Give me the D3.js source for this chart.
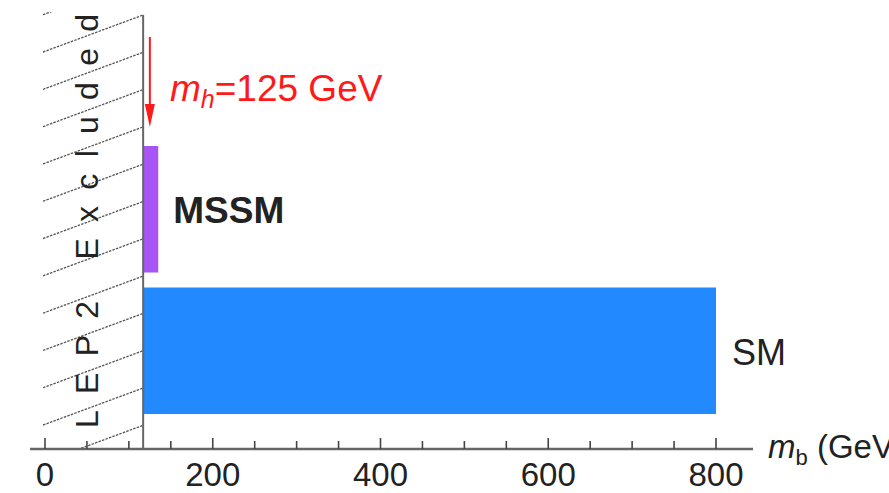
<!DOCTYPE html>
<html>
<head>
<meta charset="utf-8">
<script src="https://cdn.jsdelivr.net/npm/d3@7"></script>
<style>
  body { margin: 0; background: #fff; }
  svg text { font-family: "Liberation Sans", Arial, Helvetica, sans-serif; }
</style>
</head>
<body>
<svg width="889" height="493"></svg>
<script>
const svg = d3.select("svg"),
      width = +svg.attr("width"),
      height = +svg.attr("height");

// data
const bands = ["MSSM", "SM"];
const bandLow = [117, 117];
const bandHigh = [135, 800];
const bandColors = ["#a855f7", "#2289ff"];
const lepBound = 117;
const higgsMass = 125;
const tickValues = [0, 200, 400, 600, 800];
const minorTicks = d3.range(0, 801, 50);

const colors = {
  axis: "#666",
  hatch: "#555",
  red: "#ff1a1a",
  text: "#222"
}

const axisY = 449;
const x = d3.scaleLinear().domain([0, 800]).range([45, 716]);
const y = d3.scaleBand().domain(bands).range([146, 414])
  .paddingInner(0.106).paddingOuter(0);

// hatched LEP2 excluded region
const hatchLeft = 43, hatchTop = 12;
svg.append("clipPath").attr("id", "hatchClip")
  .append("rect")
  .attr("x", hatchLeft).attr("y", hatchTop)
  .attr("width", x(lepBound) - hatchLeft)
  .attr("height", axisY - hatchTop);

const hatchW = x(lepBound) - hatchLeft;
svg.append("g").attr("clip-path", "url(#hatchClip)")
  .selectAll("line")
  .data(d3.range(-1, 13)).enter().append("line")
  .attr("x1", hatchLeft)
  .attr("y1", k => 15 + 37.3 * k + hatchW * 0.37)
  .attr("x2", x(lepBound))
  .attr("y2", k => 15 + 37.3 * k)
  .attr("stroke", colors.hatch)
  .attr("stroke-width", 1.3)
  .attr("stroke-dasharray", "2.5,1.2");

// rotated LEP2 label
svg.append("text")
  .attr("transform", "translate(98,428) rotate(-90)")
  .attr("font-size", 32)
  .attr("fill", colors.text)
  .attr("textLength", 414)
  .attr("lengthAdjust", "spacing")
  .text("LEP2 Excluded");

// bars
svg.append("g").selectAll("rect")
  .data(bands).enter().append("rect")
  .attr("x", (d, i) => x(bandLow[i]))
  .attr("y", d => y(d))
  .attr("width", (d, i) => x(bandHigh[i]) - x(bandLow[i]))
  .attr("height", y.bandwidth())
  .attr("fill", (d, i) => bandColors[i]);

// bar labels
svg.append("text")
  .attr("x", x(bandHigh[0]) + 15)
  .attr("y", y("MSSM") + y.bandwidth() / 2 + 14)
  .attr("font-size", 37)
  .attr("font-weight", "bold")
  .attr("fill", colors.text)
  .text("MSSM");

svg.append("text")
  .attr("x", x(bandHigh[1]) + 16)
  .attr("y", y("SM") + y.bandwidth() / 2 + 14)
  .attr("font-size", 36)
  .attr("fill", colors.text)
  .text("SM");

// LEP2 bound line
svg.append("line")
  .attr("x1", x(lepBound)).attr("x2", x(lepBound))
  .attr("y1", 15).attr("y2", axisY)
  .attr("stroke", colors.axis)
  .attr("stroke-width", 2);

// x axis
svg.append("line")
  .attr("x1", x(0) - 15).attr("x2", x(800) + 37)
  .attr("y1", axisY).attr("y2", axisY)
  .attr("stroke", colors.axis)
  .attr("stroke-width", 2.5);

svg.append("g").selectAll("line")
  .data(minorTicks).enter().append("line")
  .attr("x1", d => x(d)).attr("x2", d => x(d))
  .attr("y1", axisY)
  .attr("y2", d => tickValues.includes(d) ? axisY - 11 : axisY - 8)
  .attr("stroke", "#444")
  .attr("stroke-width", 1.6);

svg.append("g").selectAll("text")
  .data(tickValues).enter().append("text")
  .attr("x", d => x(d))
  .attr("y", axisY + 37)
  .attr("text-anchor", "middle")
  .attr("font-size", 33)
  .attr("fill", colors.text)
  .text(d => d);

// axis title
const title = svg.append("text")
  .attr("x", 768).attr("y", 458)
  .attr("font-size", 33)
  .attr("fill", colors.text);
title.append("tspan").attr("font-style", "italic").text("m");
title.append("tspan").attr("font-size", 22).attr("dy", 7).text("b");
title.append("tspan").attr("dy", -7).text(" (GeV)");

// Higgs mass arrow
const hx = x(higgsMass);
svg.append("line")
  .attr("x1", hx).attr("x2", hx)
  .attr("y1", 37).attr("y2", 110)
  .attr("stroke", colors.red)
  .attr("stroke-width", 2);
svg.append("path")
  .attr("d", `M${hx - 5},104 L${hx + 5},104 L${hx},127 Z`)
  .attr("fill", colors.red);

const hlabel = svg.append("text")
  .attr("x", 170).attr("y", 101)
  .attr("font-size", 37)
  .attr("fill", colors.red);
hlabel.append("tspan").attr("font-style", "italic").text("m");
hlabel.append("tspan").attr("font-style", "italic").attr("font-size", 25).attr("dy", 7).text("h");
hlabel.append("tspan").attr("dy", -7).text("=125 GeV");
</script>
</body>
</html>
